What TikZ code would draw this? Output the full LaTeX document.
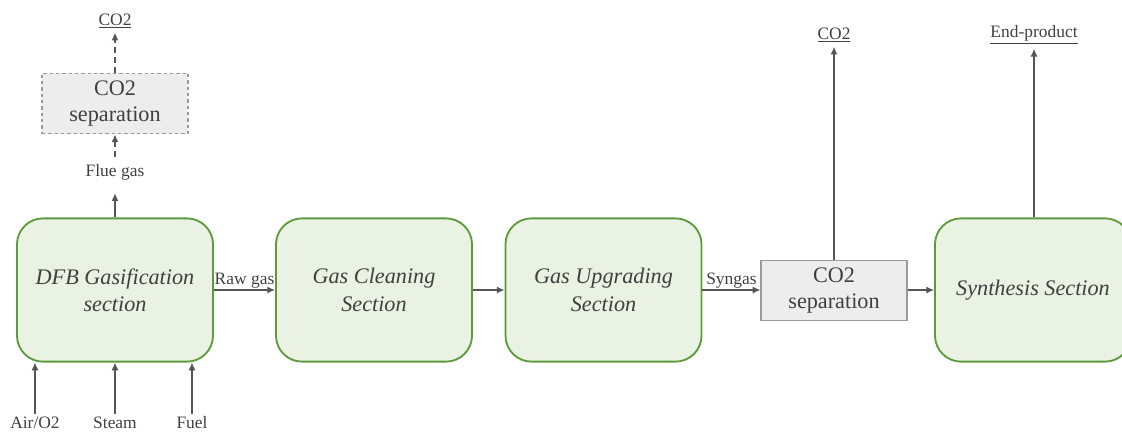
\documentclass[tikz,border=0pt]{standalone}
\usepackage{fontspec}
\setmainfont{Liberation Serif}
\usetikzlibrary{arrows.meta}

\definecolor{secfill}{HTML}{EAF2E3}
\definecolor{secdraw}{HTML}{5C9A3C}
\definecolor{sepfill}{HTML}{EDEDED}
\definecolor{sepdraw}{HTML}{9A9A9A}
\definecolor{flow}{HTML}{555555}
\definecolor{txt}{HTML}{404040}

\tikzset{
    section/.style={draw=secdraw, fill=secfill, line width=1.3pt, rounded corners=0.65cm,
        minimum width=4.9cm, minimum height=3.58cm, align=center, text=txt,
        font=\fontsize{15.8}{19.5}\selectfont\itshape},
    sepbox/.style={draw=sepdraw, fill=sepfill, line width=0.8pt,
        minimum width=3.65cm, minimum height=1.52cm, align=center, text=txt,
        font=\fontsize{15.8}{19}\selectfont},
    lbl/.style={text=txt, inner sep=3pt, font=\fontsize{12.4}{14}\selectfont},
    flowline/.style={draw=flow, line width=0.9pt, -{Latex[length=5.5pt,width=5pt]}},
}

\begin{document}
\begin{tikzpicture}[x=0.025cm, y=-0.025cm]

    %% Gasification chain
    \useasboundingbox (0, 0) rectangle (1122, 434);

    % Sections
    \node[section] (dfb) at (115, 290) {DFB Gasification\\section};
    \node[section] (clean) at (374, 290) {Gas Cleaning\\Section};
    \node[section] (upgr) at (603.5, 290) {Gas Upgrading\\Section};
    \node[section] (synth) at (1033, 290) {Synthesis Section};

    % CO2 separation units
    \node[sepbox] (sepsyn) at (834, 290.5) {CO2\\separation};
    \node[sepbox, dashed, dash pattern=on 2.5pt off 2pt] (sepflue) at (115, 103.5) {CO2\\separation};

    % Stream labels
    \node[lbl] (co2flue) at (115, 21) {\underline{CO2}};
    \node[lbl, inner sep=5pt] (flue) at (115, 172) {Flue gas};
    \node[lbl] (co2syn) at (834, 35) {\underline{CO2}};
    \node[lbl] (endprod) at (1034, 35) {\underline{End-product}};
    \node[lbl, inner sep=2pt] (air) at (35, 423) {Air/O2};
    \node[lbl, inner sep=2pt] (steam) at (115, 423) {Steam};
    \node[lbl, inner sep=2pt] (fuel) at (192, 423) {Fuel};

    % Main line
    \draw[flowline] (dfb) -- node[lbl, above, inner sep=1pt] {Raw gas} (clean);
    \draw[flowline] (clean) -- (upgr);
    \draw[flowline] (upgr.east) -- node[lbl, above, inner sep=1pt] {Syngas} (sepsyn.west |- upgr.east);
    \draw[flowline] (sepsyn.east |- synth.west) -- (synth.west);

    % Outlets
    \draw[flowline, shorten >=0.15cm] (dfb.north) -- (flue.south);
    \draw[flowline, dashed, dash pattern=on 4pt off 3pt] (flue.north) -- (sepflue.south);
    \draw[flowline, dashed, dash pattern=on 4pt off 3pt] (sepflue.north) -- (co2flue.south);
    \draw[flowline] (sepsyn.north) -- (co2syn.south);
    \draw[flowline] (endprod.south |- synth.north) -- (endprod.south);

    % Inlets
    \draw[flowline] (air.north) -- (air.north |- dfb.south);
    \draw[flowline] (steam.north) -- (dfb.south);
    \draw[flowline] (fuel.north) -- (fuel.north |- dfb.south);

\end{tikzpicture}
\end{document}
